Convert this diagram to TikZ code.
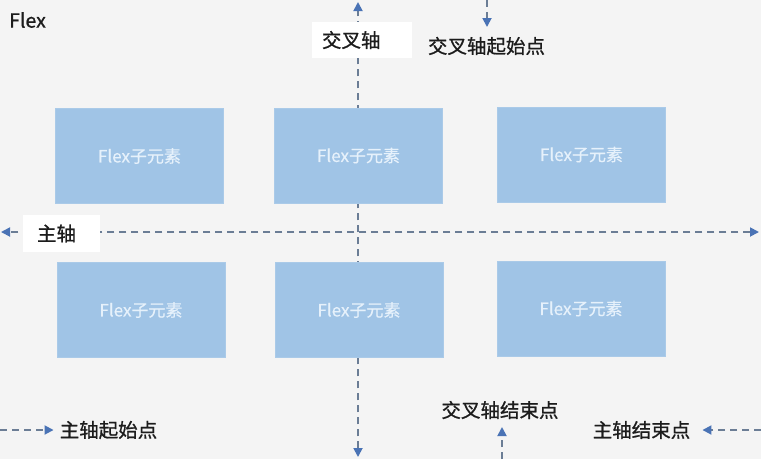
\documentclass[tikz,border=0pt]{standalone}
\usepackage{fontspec}
\setmainfont{Noto Sans CJK SC}
\newfontfamily\labfont[FakeBold=0.9]{Noto Sans CJK SC}
\newfontfamily\boxfont[FakeBold=0.5]{Noto Sans CJK SC}
\usetikzlibrary{arrows.meta}
\definecolor{bggray}{HTML}{F4F4F4}
\definecolor{boxblue}{HTML}{A0C4E6}
\definecolor{boxtext}{HTML}{E6F1FB}
\definecolor{dashcol}{HTML}{6B7D95}
\definecolor{tipblue}{HTML}{4A73B5}
\definecolor{labtext}{HTML}{1C1C1C}
\tikzset{
  axisline/.style={draw=dashcol, line width=1.8pt, dash pattern=on 7pt off 5pt,
    arrows={-{Triangle[length=9pt,width=9pt,color=tipblue]}}},
  bothline/.style={axisline, arrows={{Triangle[length=9pt,width=9pt,color=tipblue]}-{Triangle[length=9pt,width=9pt,color=tipblue]}}},
  flexbox/.style={fill=boxblue, draw=boxblue!90!white, line width=0.6pt, minimum width=168pt, minimum height=95pt,
    inner sep=0pt, text=boxtext, font=\boxfont\fontsize{17}{20}\selectfont},
  labelbox/.style={fill=white, inner sep=0pt, text=labtext, font=\labfont\fontsize{19.5}{23}\selectfont},
  plainlabel/.style={inner sep=0pt, text=labtext, font=\labfont\fontsize{19.5}{23}\selectfont},
}
\begin{document}
\begin{tikzpicture}[x=1pt,y=-1pt]
\useasboundingbox (0,0) rectangle (761,459);
\fill[bggray] (0,0) rectangle (761,459);
% axes
\coordinate (ctop) at (358,2);
\coordinate (cbot) at (358,457);
\coordinate (mleft) at (1,232);
\coordinate (mright) at (759,232);
\draw[bothline] (cbot) -- (ctop);
\draw[bothline] (mright) -- (mleft);
% boxes
\node[flexbox] (b11) at (139.5,156) {Flex子元素};
\node[flexbox] (b12) at (358.5,155.5) {Flex子元素};
\node[flexbox] (b13) at (581.5,154.5) {Flex子元素};
\node[flexbox] (b21) at (141,310) {Flex子元素};
\node[flexbox] (b22) at (359,310) {Flex子元素};
\node[flexbox] (b23) at (581,308.5) {Flex子元素};
% axis labels
\node[labelbox, minimum width=100pt, minimum height=36pt] (cross) at (362,40) {\makebox[80pt][l]{交叉轴}};
\node[labelbox, minimum width=77pt, minimum height=37pt] (main) at (61.5,233.5) {\makebox[49pt][l]{主轴}};
% top-left
\node[plainlabel, anchor=west, font=\labfont\fontsize{19.5}{23}\selectfont] (flex) at (9,20) {Flex};
% start/end labels
\node[plainlabel] (cstart) at (486.5,46) {交叉轴起始点};
\node[plainlabel] (cend) at (500,410) {交叉轴结束点};
\node[plainlabel] (mstart) at (108.5,430) {主轴起始点};
\node[plainlabel] (mend) at (641.5,430) {主轴结束点};
\coordinate (cs0) at (487,0);
\coordinate (ce0) at (502,459);
\coordinate (ms0) at (0,430);
\coordinate (me0) at (761,430);
\coordinate (cs1) at (487,27);
\coordinate (ce1) at (502,427);
\draw[axisline] (cs0) -- (cs1);
\draw[axisline] (ce0) -- (ce1);
\draw[axisline] (ms0) -- ([xshift=-6pt]mstart.west);
\draw[axisline] (me0) -- ([xshift=12pt]mend.east);
\end{tikzpicture}
\end{document}
